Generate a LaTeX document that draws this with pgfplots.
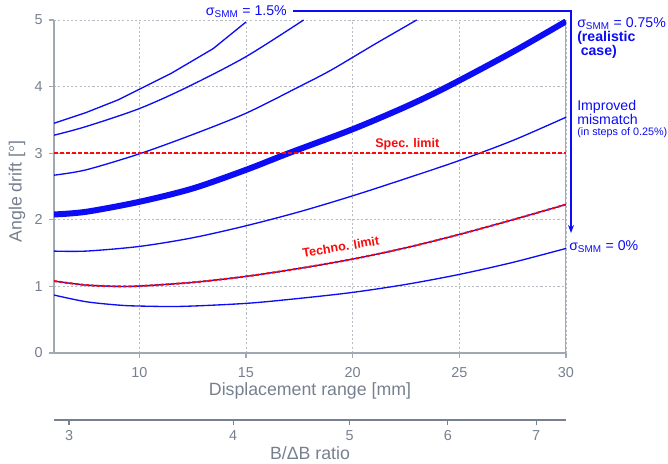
\documentclass[border=0pt]{standalone}
\usepackage{fontspec}
\setmainfont{Liberation Sans}
\usepackage{pgfplots}
\pgfplotsset{compat=1.18}
\usetikzlibrary{arrows.meta}
\definecolor{tickgray}{RGB}{118,128,142}
\definecolor{axisgray}{RGB}{160,168,180}
\definecolor{gridgray}{RGB}{182,187,196}
\definecolor{myblue}{RGB}{12,12,245}
\definecolor{myred}{RGB}{250,10,10}
\begin{document}
\begin{tikzpicture}
\path[use as bounding box] (-40.5pt,-83.25pt) rectangle (460.5pt,264.75pt);
\begin{axis}[
  at={(0,0)}, anchor=south west,
  scale only axis, width=384pt, height=249.75pt,
  xmin=6, xmax=30, ymin=0, ymax=5,
  xtick={10,15,20,25,30}, ytick={0,1,2,3,4,5},
  axis x line*=bottom, axis y line*=left,
  x axis line style={axisgray, line width=1pt, -},
  y axis line style={axisgray, line width=1.5pt, -},
  grid=major,
  major grid style={gridgray, line width=0.7pt, dash pattern=on 1.6pt off 1.6pt},
  tick align=outside, major tick length=3.5pt,
  tick style={axisgray, line width=1pt},
  ticklabel style={font=\fontsize{10.8}{12}\selectfont, text=tickgray},
  /pgf/number format/assume math mode=true,
  xticklabel style={yshift=-4pt},
  yticklabel style={xshift=-1.5pt},
  xlabel={Displacement range [mm]},
  ylabel={Angle drift [°]},
  label style={font=\fontsize{13.3}{15}\selectfont, text=tickgray},
  xlabel style={at={(axis description cs:0.5,-0.113)}, anchor=center},
  ylabel style={at={(axis description cs:-0.0723,0.485)}, anchor=center, rotate=0},
]
\draw[axisgray, line width=1pt] (rel axis cs:1,0) -- (rel axis cs:1,1);
% sigma = 1.5%
\addplot[myblue, line width=1pt] coordinates {(6,3.45) (7.5,3.61) (9,3.80) (10,3.96) (11.5,4.20) (13.46,4.57) (15,4.97)};
% sigma = 1.25%
\addplot[myblue, line width=1pt, smooth] coordinates {(6,3.27) (7.5,3.40) (10,3.67) (12.3,4.0) (15,4.45) (17.7,5.0)};
% sigma = 1.0%
\addplot[myblue, line width=1pt, smooth] coordinates {(6,2.67) (7.5,2.75) (10,2.99) (12.5,3.28) (15,3.60) (17.5,4.0) (19,4.25) (21,4.63) (23,5.0)};
% sigma = 0.75% (realistic)
\addplot[myblue, line width=4.5pt, smooth] coordinates {(6,2.08) (7.5,2.12) (10,2.27) (12.5,2.47) (15,2.75) (17,3.0) (20,3.36) (22.5,3.70) (24.45,4.0) (27.5,4.52) (30,4.98)};
% sigma = 0.5%
\addplot[myblue, line width=1pt, smooth] coordinates {(6,1.53) (7.5,1.53) (10,1.60) (12.5,1.73) (15,1.91) (17.5,2.12) (20,2.36) (22.5,2.62) (25,2.89) (27.5,3.19) (30,3.54)};
% sigma = 0.25% (techno limit)
\addplot[myblue, line width=1pt, smooth] coordinates {(6,1.08) (7.5,1.02) (9,1.0) (10,1.005) (12.5,1.06) (15,1.15) (17.5,1.27) (20,1.41) (22.5,1.58) (25,1.78) (27.5,2.0) (30,2.23)};
\addplot[myred, line width=1.5pt, smooth, dash pattern=on 2.5pt off 1.5pt] coordinates {(6,1.08) (7.5,1.02) (9,1.0) (10,1.005) (12.5,1.06) (15,1.15) (17.5,1.27) (20,1.41) (22.5,1.58) (25,1.78) (27.5,2.0) (30,2.23)};
% sigma = 0%
\addplot[myblue, line width=1pt, smooth] coordinates {(6,0.87) (7.5,0.77) (9,0.72) (10,0.705) (12,0.70) (15,0.745) (17.5,0.82) (20,0.91) (22.5,1.03) (25,1.18) (27.5,1.36) (30,1.57)};
% spec limit
\addplot[myred, line width=1.5pt, dash pattern=on 3pt off 1.5pt] coordinates {(6,3) (30,3)};
\end{axis}
\begin{axis}[
  at={(0,-50.25pt)}, anchor=south west,
  scale only axis, width=384pt, height=20pt,
  xmin=6, xmax=30, ymin=0, ymax=1,
  axis x line*=bottom, axis y line=none,
  x axis line style={tickgray, line width=0.9pt, -},
  xtick={6.707,14.40,19.86,24.46,28.60},
  xticklabels={3,4,5,6,7},
  ytick=\empty,
  tick align=outside, major tick length=3.5pt,
  tick style={tickgray, line width=0.9pt},
  ticklabel style={font=\fontsize{10.8}{12}\selectfont, text=tickgray},
  xticklabel style={yshift=-1pt},
  xlabel={B/ΔB ratio},
  label style={font=\fontsize{13.3}{15}\selectfont, text=tickgray},
  xlabel style={at={(rel axis cs:0.5,0)}, anchor=center, yshift=-24.75pt},
]
\addplot[draw=none] coordinates {(6,0) (30,0)};
\end{axis}
\begin{scope}[x=0.75pt, y=-0.75pt, shift={(-40.5pt,264.75pt)}]
\draw[myblue, line width=1.3pt, -{Stealth[length=6pt,width=4.5pt]}] (293,11) -- (571,11) -- (571,233);
\begin{scope}[every node/.style={inner sep=0pt, text=myblue, font=\fontsize{10.6}{12}\selectfont}]
\node[anchor=base east] at (287,15.7) {σ\textsubscript{SMM} = 1.5\%};
\node[anchor=base west] at (577,27.7) {σ\textsubscript{SMM} = 0.75\%};
\node[anchor=base west, font=\fontsize{10.6}{12}\selectfont\bfseries] at (577,41.7) {(realistic};
\node[anchor=base west, font=\fontsize{10.6}{12}\selectfont\bfseries] at (580.5,56) {case)};
\node[anchor=base west] at (577,111) {Improved};
\node[anchor=base west] at (577,124.5) {mismatch};
\node[anchor=base west, font=\fontsize{8.1}{10}\selectfont] at (577,135.7) {(in steps of 0.25\%)};
\node[anchor=base west] at (569,250.7) {σ\textsubscript{SMM} = 0\%};
\end{scope}
\node[anchor=base, inner sep=0pt, text=myred, font=\fontsize{9.4}{11}\selectfont\bfseries] at (407.3,147.3) {Spec. limit};
\node[anchor=center, inner sep=0pt, rotate=9.5, text=myred, font=\fontsize{9.4}{11}\selectfont\bfseries] at (340.8,246.8) {Techno. limit};
\end{scope}
\end{tikzpicture}
\end{document}
